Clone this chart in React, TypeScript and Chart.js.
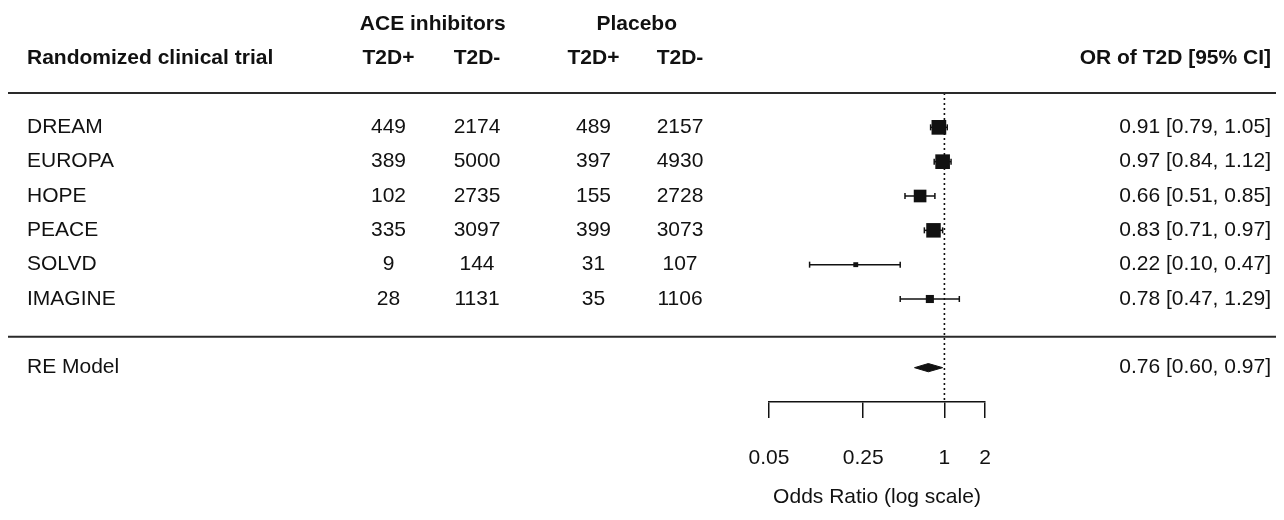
import React, { useEffect, useRef } from 'react';
import { Chart, registerables } from 'chart.js';

Chart.register(...registerables);

// ---------- data ----------
const studies = ['DREAM', 'EUROPA', 'HOPE', 'PEACE', 'SOLVD', 'IMAGINE'];
const aceCases = [449, 389, 102, 335, 9, 28];
const aceNonCases = [2174, 5000, 2735, 3097, 144, 1131];
const placeboCases = [489, 397, 155, 399, 31, 35];
const placeboNonCases = [2157, 4930, 2728, 3073, 107, 1106];
const orEstimate = [0.91, 0.97, 0.66, 0.83, 0.22, 0.78];
const orLower = [0.79, 0.84, 0.51, 0.71, 0.1, 0.47];
const orUpper = [1.05, 1.12, 0.85, 0.97, 0.47, 1.29];
const modelLabel = 'RE Model';
const modelEstimate = 0.76;
const modelLower = 0.6;
const modelUpper = 0.97;
const tau2 = 0.065; // estimated between-study variance (for box sizes)
const xTickValues = [0.05, 0.25, 1, 2];
const xTickLabels = ['0.05', '0.25', '1', '2'];
const groupHeaders = ['ACE inhibitors', 'Placebo'];
const columnHeaders = ['T2D+', 'T2D-', 'T2D+', 'T2D-'];
const leftTitle = 'Randomized clinical trial';
const rightTitle = 'OR of T2D [95% CI]';
const axisTitle = 'Odds Ratio (log scale)';

// ---------- style ----------
const FONT = '"Liberation Sans", Arial, Helvetica, sans-serif';
const INK = '#111111';
const RULE = '#2a2a2a';
const CANVAS_W = 1268;
const CANVAS_H = 504;
const LABEL_X = 19;
const COL_X = [380.5, 469, 585.5, 672];
const RIGHT_X = 1263;

export default function App() {
  const ref = useRef<HTMLCanvasElement>(null);

  useEffect(() => {
    const canvas = ref.current;
    if (!canvas) return;
    const k = studies.length;
    const rows = studies.map((_, i) => k - i);
    const modelRow = -1;
    const sepRow = -0.1;
    const topRuleRow = k + 1;

    const vi = studies.map(
      (_, i) => 1 / aceCases[i] + 1 / aceNonCases[i] + 1 / placeboCases[i] + 1 / placeboNonCases[i]
    );
    const wi = vi.map((v) => 1 / (v + tau2));
    const wMin = Math.min(...wi);
    const wMax = Math.max(...wi);
    const BASE = 9.8;
    const sides = wi.map((w) => BASE * (0.5 + (w - wMin) / (wMax - wMin)));
    const radii = sides.map((s) => s / Math.SQRT2);

    const fmt = (v: number) => v.toFixed(2);

    const tablePlugin = {
      id: 'forestTable',
      afterDraw(chart: any) {
        const { ctx } = chart;
        const y = chart.scales.y;
        const py = (r: number) => y.getPixelForValue(r);
        ctx.save();
        // horizontal rules
        ctx.strokeStyle = RULE;
        ctx.lineWidth = 2;
        [topRuleRow, sepRow].forEach((r) => {
          const yy = py(r);
          ctx.beginPath();
          ctx.moveTo(0, yy);
          ctx.lineTo(CANVAS_W, yy);
          ctx.stroke();
        });
        ctx.fillStyle = INK;
        ctx.textBaseline = 'middle';
        // headers
        ctx.font = `bold 21px ${FONT}`;
        ctx.textAlign = 'center';
        groupHeaders.forEach((h, g) => {
          ctx.fillText(h, (COL_X[2 * g] + COL_X[2 * g + 1]) / 2, py(k + 3));
        });
        columnHeaders.forEach((h, c) => ctx.fillText(h, COL_X[c], py(k + 2)));
        ctx.textAlign = 'left';
        ctx.fillText(leftTitle, LABEL_X, py(k + 2));
        ctx.textAlign = 'right';
        ctx.fillText(rightTitle, RIGHT_X, py(k + 2));
        // study rows
        ctx.font = `21px ${FONT}`;
        studies.forEach((s, i) => {
          const yy = py(rows[i]);
          ctx.textAlign = 'left';
          ctx.fillText(s, LABEL_X, yy);
          ctx.textAlign = 'center';
          [aceCases[i], aceNonCases[i], placeboCases[i], placeboNonCases[i]].forEach((v, c) =>
            ctx.fillText(String(v), COL_X[c], yy)
          );
          ctx.textAlign = 'right';
          ctx.fillText(`${fmt(orEstimate[i])} [${fmt(orLower[i])}, ${fmt(orUpper[i])}]`, RIGHT_X, yy);
        });
        const my = py(modelRow);
        ctx.textAlign = 'left';
        ctx.fillText(modelLabel, LABEL_X, my);
        ctx.textAlign = 'right';
        ctx.fillText(`${fmt(modelEstimate)} [${fmt(modelLower)}, ${fmt(modelUpper)}]`, RIGHT_X, my);
        ctx.restore();
      },
    };

    const ciDatasets = studies.map((_, i) => ({
      type: 'line' as const,
      data: [
        { x: orLower[i], y: rows[i] },
        { x: orUpper[i], y: rows[i] },
      ],
      borderColor: INK,
      borderWidth: 1.5,
      pointStyle: 'line' as const,
      pointRotation: 90,
      pointRadius: 3,
      pointBorderColor: INK,
      pointBorderWidth: 1.5,
      pointHoverRadius: 3,
      order: 1,
      clip: false as const,
    }));

    const h = 0.12;
    const chart = new Chart(canvas, {
      type: 'scatter',
      data: {
        datasets: [
          {
            type: 'scatter',
            data: studies.map((_, i) => ({ x: orEstimate[i], y: rows[i] })),
            pointStyle: 'rect',
            pointRadius: radii,
            pointHoverRadius: radii,
            backgroundColor: INK,
            borderColor: INK,
            borderWidth: 0,
            order: 0,
          } as any,
          {
            type: 'line',
            data: [
              { x: modelLower, y: modelRow },
              { x: modelEstimate, y: modelRow + h },
              { x: modelUpper, y: modelRow },
              { x: modelEstimate, y: modelRow - h },
              { x: modelLower, y: modelRow },
            ],
            borderColor: INK,
            backgroundColor: INK,
            borderWidth: 1,
            fill: 'shape',
            pointRadius: 0,
            pointHoverRadius: 0,
            tension: 0,
            order: 0,
            clip: false,
          } as any,
          ...ciDatasets,
          {
            type: 'line',
            data: [
              { x: 1, y: topRuleRow },
              { x: 1, y: -2 },
            ],
            borderColor: INK,
            borderWidth: 1.6,
            borderDash: [2, 3],
            pointRadius: 0,
            pointHoverRadius: 0,
            order: 2,
            clip: false,
          } as any,
        ],
      },
      options: {
        responsive: false,
        animation: false,
        events: [],
        layout: { padding: { left: 761, right: 291, top: 85, bottom: 0 } },
        plugins: { legend: { display: false }, tooltip: { enabled: false } },
        scales: {
          x: {
            type: 'logarithmic',
            min: 0.05,
            max: 2,
            afterBuildTicks: (s: any) => {
              s.ticks = xTickValues.map((v) => ({ value: v }));
            },
            afterFit: (s: any) => {
              s.height = 110;
            },
            ticks: {
              autoSkip: false,
              maxRotation: 0,
              padding: 28,
              color: INK,
              font: { family: FONT, size: 21 },
              callback: (_v: any, i: number) => xTickLabels[i],
            },
            grid: {
              drawOnChartArea: false,
              drawTicks: true,
              tickLength: 16,
              color: INK,
              lineWidth: 1.5,
            },
            border: { display: true, color: INK, width: 1.5 },
            title: {
              display: true,
              text: axisTitle,
              color: INK,
              font: { family: FONT, size: 21 },
              padding: { top: 0, bottom: 2 },
            },
          } as any,
          y: { type: 'linear', min: -2, max: topRuleRow, display: false },
        },
      },
      plugins: [tablePlugin],
    });
    return () => chart.destroy();
  }, []);

  return (
    <div style={{ width: CANVAS_W, height: CANVAS_H }}>
      <canvas ref={ref} width={CANVAS_W} height={CANVAS_H} style={{ display: 'block' }} />
    </div>
  );
}
